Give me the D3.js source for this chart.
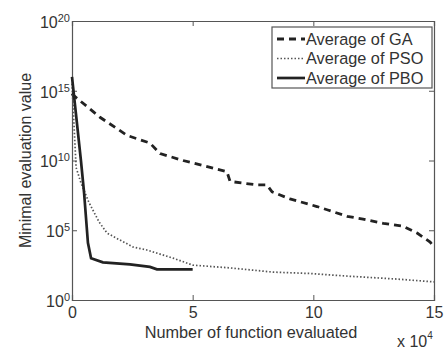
<!DOCTYPE html>
<html><head><meta charset="utf-8">
<script src="https://cdn.jsdelivr.net/npm/d3@7"></script>
<style>body{margin:0;background:#fff}svg{display:block}text{font-family:"Liberation Sans",Arial,sans-serif;fill:#333}</style>
</head><body><svg id="c" width="446" height="349"></svg>
<script>
// x in units of 10^4 evaluations, y as log10 of value
const gaX  = [0, 0.04, 1.16, 2.28, 3.23, 3.65, 4.6, 6.42, 6.55, 7.67, 8.08, 8.29, 9.03, 10.15, 10.6, 11.4, 12.06, 12.9, 13.7, 14.3, 14.84, 15];
const gaY  = [14.8, 14.7, 13.1, 11.8, 11.25, 10.5, 10.0, 9.2, 8.5, 8.25, 8.25, 7.75, 7.25, 6.7, 6.45, 6.0, 5.8, 5.5, 5.3, 4.8, 4.15, 3.8];
const psoX = [0, 0.17, 0.37, 0.7, 1.12, 1.45, 1.82, 2.53, 3.07, 4.19, 5.0, 6.55, 8.33, 9.86, 11.52, 13.47, 15];
const psoY = [15.5, 9.5, 8.4, 7.0, 5.6, 4.8, 4.45, 3.8, 3.6, 3.0, 2.5, 2.3, 2.0, 1.9, 1.7, 1.5, 1.3];
const pboX = [0, 0.37, 0.5, 0.66, 0.79, 1.28, 2.4, 3.23, 3.52, 5.0];
const pboY = [16.0, 10.0, 7.7, 4.1, 3.0, 2.7, 2.55, 2.37, 2.2, 2.2];
const xTicks = [0, 5, 10, 15];
const yTickExp = [0, 5, 10, 15, 20];
const legendLabels = ["Average of GA", "Average of PSO", "Average of PBO"];

const svg = d3.select("#c");
const L = 72, R = 434, T = 21, B = 300;
const x = d3.scaleLinear().domain([0, 15]).range([L, R]);
const y = d3.scaleLog().domain([1, 1e20]).range([B, T]);
const FF = "Liberation Sans, Arial, sans-serif";

// axes
const gB = svg.append("g").attr("transform", `translate(0,${B})`)
  .call(d3.axisBottom(x).tickValues(xTicks).tickSize(-5).tickPadding(7).tickFormat(d3.format("d")));
const gT = svg.append("g").attr("transform", `translate(0,${T})`)
  .call(d3.axisTop(x).tickValues(xTicks).tickSize(-5).tickFormat(""));
const gL = svg.append("g").attr("transform", `translate(${L},0)`)
  .call(d3.axisLeft(y).tickValues(yTickExp.map(e => Math.pow(10, e))).tickSize(-5).tickFormat(""));
const gR = svg.append("g").attr("transform", `translate(${R},0)`)
  .call(d3.axisRight(y).tickValues(yTickExp.map(e => Math.pow(10, e))).tickSize(-5).tickFormat(""));
[gB, gT, gL, gR].forEach(g => {
  g.selectAll("path.domain").attr("stroke", "#555").attr("stroke-width", 1.2);
  g.selectAll(".tick line").attr("stroke", "#555");
});
gB.selectAll(".tick text").attr("font-size", 16).attr("fill", "#333").style("font-family", FF);
// log tick labels with superscripts
gL.selectAll(".tick").each(function(d) {
  const e = Math.round(Math.log10(d));
  const t = d3.select(this).select("text").attr("x", -2).attr("dy", "0.4em")
    .attr("text-anchor", "end").attr("font-size", 16).attr("fill", "#333")
    .style("font-family", FF);
  t.text(null);
  t.append("tspan").text("10");
  t.append("tspan").attr("dy", "-0.55em").attr("font-size", 11).text(e);
});

// x10^4 label
const xm = svg.append("text").attr("x", 397).attr("y", 347).attr("font-size", 16);
xm.append("tspan").text("x 10");
xm.append("tspan").attr("dy", -8).attr("font-size", 10).text("4");

// axis titles
svg.append("text").attr("x", 251).attr("y", 338).attr("text-anchor", "middle")
  .attr("font-size", 16.3).text("Number of function evaluated");
svg.append("text").attr("transform", `translate(31,${(T + B) / 2}) rotate(-90)`)
  .attr("text-anchor", "middle").attr("font-size", 16).text("Minimal evaluation value");

// lines
const line = d3.line().x(d => x(d[0])).y(d => y(Math.pow(10, d[1])));
const series = [
  {xs: gaX, ys: gaY, dash: "7,5", w: 2.8, c: "#222"},
  {xs: psoX, ys: psoY, dash: "1.5,2", w: 1.7, c: "#555"},
  {xs: pboX, ys: pboY, dash: null, w: 2.7, c: "#222"}
];
series.forEach(s => {
  svg.append("path").datum(s.xs.map((v, i) => [v, s.ys[i]]))
    .attr("d", line).attr("fill", "none").attr("stroke", s.c)
    .attr("stroke-width", s.w).attr("stroke-dasharray", s.dash);
});

// legend
const lg = svg.append("g");
lg.append("rect").attr("x", 272).attr("y", 27).attr("width", 160).attr("height", 61)
  .attr("fill", "#fff").attr("stroke", "#555").attr("stroke-width", 1.2);
legendLabels.forEach((lab, i) => {
  const yy = 39 + i * 19.5;
  const s = series[i];
  lg.append("line").attr("x1", 277).attr("x2", 305).attr("y1", yy).attr("y2", yy)
    .attr("stroke", s.c).attr("stroke-width", s.w).attr("stroke-dasharray", s.dash);
  lg.append("text").attr("x", 306).attr("y", yy).attr("dy", "0.36em").attr("font-size", 16.3).text(lab);
});
</script></body></html>
